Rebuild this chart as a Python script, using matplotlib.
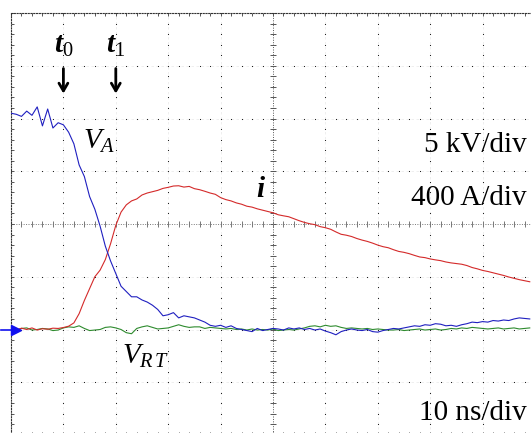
import numpy as np
import matplotlib
matplotlib.use('Agg')
import matplotlib.pyplot as plt

# scope settings
ns_per_div = 10.0
kv_per_div = 5.0
amp_per_div = 400.0
ground_div = -2.0

# sample times, ns (one per ns)
t_ns = np.arange(0, 100, 1.0)

# anode voltage V_A, kV
v_a = [20.5, 20.4, 20.2, 20.7, 20.3, 21.1, 19.3, 20.9, 19.1, 19.6,
       19.4, 18.7, 17.6, 15.6, 14.5, 12.6, 11.4, 9.8, 7.9, 6.5,
       5.3, 4.1, 3.6, 3.1, 3.1, 2.8, 2.6, 2.3, 1.9, 1.3,
       1.4, 1.6, 1.1, 1.3, 1.2, 1.1, 0.9, 0.7, 0.4, 0.3,
       0.4, 0.2, 0.35, 0.1, 0.0, -0.1, -0.2, 0.1, -0.1, 0.0,
       0.1, 0.05, -0.05, 0.15, 0.05, 0.15, 0.0, 0.1, -0.05, 0.05,
       -0.15, -0.3, -0.5, -0.2, -0.05, 0.05, -0.05, -0.1, 0.0, -0.2,
       -0.25, -0.1, 0.0, 0.1, 0.05, 0.15, 0.25, 0.35, 0.3, 0.45,
       0.4, 0.55, 0.5, 0.35, 0.4, 0.3, 0.45, 0.55, 0.7, 0.65,
       0.75, 0.7, 0.85, 0.8, 0.9, 0.85, 1.0, 1.1, 1.05, 1.0]

# current i, A
cur = [5, -5, 10, 0, 12, -4, 6, 2, 10, 8,
       15, 25, 50, 120, 220, 310, 400, 450, 530, 650,
       790, 890, 945, 975, 990, 1020, 1035, 1045, 1055, 1070,
       1078, 1088, 1090, 1080, 1085, 1068, 1060, 1048, 1035, 1025,
       1000, 985, 975, 960, 950, 935, 928, 915, 905, 895,
       885, 870, 862, 855, 840, 825, 812, 802, 795, 780,
       772, 760, 740, 722, 715, 705, 690, 678, 668, 655,
       640, 628, 620, 605, 592, 585, 575, 562, 550, 545,
       535, 528, 522, 512, 505, 500, 495, 485, 470, 460,
       448, 440, 430, 420, 410, 398, 388, 378, 370, 362]

# V_RT, kV
v_rt = [0.05, -0.05, 0.1, 0.15, -0.05, 0.0, 0.1, 0.05, -0.1, -0.05,
        0.15, 0.25, 0.2, 0.35, 0.1, -0.1, -0.05, 0.0, 0.2, 0.25,
        0.15, 0.0, -0.3, -0.4, 0.1, 0.25, 0.35, 0.2, 0.05, 0.1,
        0.15, 0.3, 0.45, 0.3, 0.2, 0.25, 0.25, 0.1, 0.2, 0.15,
        0.1, 0.05, 0.1, 0.0, 0.05, -0.05, 0.05, -0.05, 0.0, -0.05,
        0.05, -0.1, -0.05, 0.0, -0.05, 0.05, 0.15, 0.3, 0.35, 0.25,
        0.4, 0.3, 0.35, 0.2, 0.1, 0.15, 0.1, 0.05, 0.1, 0.0,
        0.05, 0.0, -0.05, -0.05, 0.0, -0.1, -0.05, 0.0, 0.05, -0.05,
        0.0, 0.05, -0.05, 0.0, 0.1, 0.05, 0.15, 0.1, 0.2, 0.15,
        0.1, 0.05, 0.1, 0.15, 0.05, 0.1, 0.15, 0.05, 0.1, 0.15]

plt.rcParams['mathtext.fontset'] = 'custom'
plt.rcParams['mathtext.rm'] = 'Liberation Serif'
plt.rcParams['mathtext.it'] = 'Liberation Serif:italic'
plt.rcParams['mathtext.bf'] = 'Liberation Serif:italic:bold'

fig = plt.figure(figsize=(5.31, 4.33), dpi=100)
fig.patch.set_facecolor('white')
# 10 x 8 division screen, slightly cut off at right/bottom
ax = fig.add_axes([11 / 531, -2 / 433, 524 / 531, 422 / 433])
ax.set_xlim(0, 10)
ax.set_ylim(-4, 4)

# border: dense dots with little inward ticks
for s in ax.spines.values():
    s.set_linestyle((0, (1, 1.5)))
    s.set_linewidth(0.8)
    s.set_color('#333333')
ax.set_xticks(np.arange(0, 10.01, 1))
ax.set_yticks(np.arange(-4, 4.01, 1))
ax.set_xticks(np.arange(0, 10.01, 0.2), minor=True)
ax.set_yticks(np.arange(-4, 4.01, 0.2), minor=True)
ax.tick_params(which='both', direction='in', length=2.5, width=0.7, color='#555555',
               top=True, right=True, labelbottom=False, labelleft=False)

# division grid: sparse dots
ydots = np.arange(-4, 4.01, 0.2)
xdots = np.arange(0, 10.01, 0.2)
for i in range(1, 10):
    if i == 5:
        continue
    ax.axvline(i, color='#ececec', lw=0.6, ls=(0, (3, 3)), zorder=0)
    ax.plot(np.full(len(ydots), float(i)), ydots, ls='none', marker='s', ms=0.75,
            mew=0, color='#222222', zorder=1)
for j in range(-3, 4):
    if j == 0:
        continue
    ax.axhline(j, color='#ececec', lw=0.6, ls=(0, (3, 3)), zorder=0)
    ax.plot(xdots, np.full(len(xdots), float(j)), ls='none', marker='s', ms=0.75,
            mew=0, color='#222222', zorder=1)

# centre axes with tick crosses
ax.axvline(5, color='#555555', lw=0.7, ls=(0, (1, 1.5)), zorder=1)
ax.axhline(0, color='#777777', lw=0.7, ls=(0, (1, 1.5)), zorder=1)
ax.plot(np.full(len(ydots), 5.0), ydots, ls='none', marker='_', ms=5, mew=0.7,
        color='#555555', zorder=1)
ax.plot(xdots, np.zeros(len(xdots)), ls='none', marker='|', ms=5, mew=0.7,
        color='#777777', zorder=1)

# traces
x = t_ns / ns_per_div
ax.plot(x, np.array(v_rt) / kv_per_div + ground_div, color='#2e8b2e', lw=0.8, zorder=3)
ax.plot(x, np.array(cur) / amp_per_div + ground_div, color='#d42a2a', lw=0.8, zorder=3)
ax.plot(x, np.array(v_a) / kv_per_div + ground_div, color='#1f1fc0', lw=0.8, zorder=4)

# ground marker
ax.plot([-0.2, 0.06], [ground_div, ground_div], color='#1010ee', lw=1.2, clip_on=False, zorder=5)
ax.plot([0.1], [ground_div], marker='>', ms=6.5, color='#1010ee', clip_on=False, zorder=5)

# labels
serif = 'Liberation Serif'
fs = 21
ax.text(1.0, 3.25, r'$\mathbf{t}_0$', fontsize=fs, ha='center', va='baseline')
ax.text(2.0, 3.25, r'$\mathbf{t}_1$', fontsize=fs, ha='center', va='baseline')
for xa in [1.0, 2.0]:
    ax.annotate('', xy=(xa, 2.42), xytext=(xa, 3.0),
                arrowprops=dict(arrowstyle='->,head_length=0.55,head_width=0.32',
                                lw=2.0, color='black'))
ax.text(1.38, 1.42, r'$V_A$', fontsize=fs, ha='left', va='baseline')
ax.text(2.12, -2.65, r'$V_{R\,T}$', fontsize=fs, ha='left', va='baseline')
ax.text(4.67, 0.52, r'$\mathbf{i}$', fontsize=fs, ha='left', va='baseline')

fig.text(527 / 531, 1 - 152 / 433, '5 kV/div', family=serif, fontsize=fs,
         ha='right', va='baseline')
fig.text(527 / 531, 1 - 205 / 433, '400 A/div', family=serif, fontsize=fs,
         ha='right', va='baseline')
fig.text(527 / 531, 1 - 420 / 433, '10 ns/div', family=serif, fontsize=fs,
         ha='right', va='baseline')

fig.savefig('out.png', dpi=100, facecolor='white')
